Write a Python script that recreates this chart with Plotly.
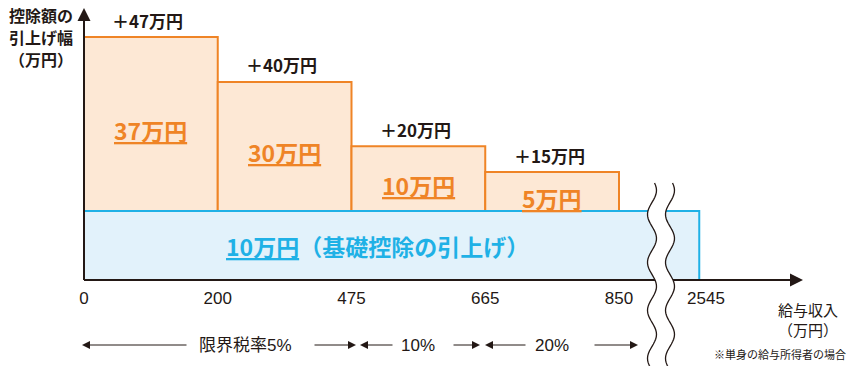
import numpy as np
import plotly.graph_objects as go

# ---------------- data ----------------
income_ticks = ["0", "200", "475", "665", "850", "2545"]      # 給与収入 (万円)
extra_amounts = [37, 30, 10, 5]                               # 控除額の上乗せ (万円)
total_amounts = [47, 40, 20, 15]                              # 引上げ幅合計 (万円)
base_amount = 10                                              # 基礎控除の引上げ (万円)
bracket_labels = ["限界税率5%", "10%", "20%"]
y_title_lines = ["控除額の", "引上げ幅", "（万円）"]
x_title_lines = ["給与収入", "（万円）"]
# schematic (not-to-scale) drawn heights, in chart units
step_heights = [25.2, 18.7, 9.4, 5.65]
base_height = 10

# ---------------- layout constants ----------------
W, H = 850, 366
ML, MR, MT, MB = 84, 47, 10, 86
PW, PH = W - ML - MR, H - MT - MB
UNIT_X = 133.75                      # px per income bracket step
X_MAX = PW / UNIT_X
Y_MAX = PH / 6.9
BREAK_POS = 4.6                      # where the broken axis ends (2545)
tick_pos = [0, 1, 2, 3, 4, 4.65]

def px2xp(px):
    return (px - ML) / PW

def py2yp(py):
    return (MT + PH - py) / PH

ORANGE = "#EF8426"
ORANGE_FILL = "#FDE8D5"
BLUE = "#1FB1E6"
BLUE_FILL = "#E2F2FB"
TXT = "#231815"
JP = "Liberation Sans, Noto Sans CJK JP"
CJK = "Noto Sans CJK JP"

fig = go.Figure()

fig.add_trace(go.Bar(
    x=[i + 0.5 for i in range(len(step_heights))],
    y=step_heights, base=base_height, width=1,
    marker=dict(color=ORANGE_FILL, line=dict(color=ORANGE, width=2)),
    hoverinfo="skip", showlegend=False))

fig.add_trace(go.Bar(
    x=[BREAK_POS / 2], y=[base_height], base=0, width=BREAK_POS,
    marker=dict(color=BLUE_FILL, line=dict(color=BLUE, width=2)),
    hoverinfo="skip", showlegend=False))

ann = []
for i, (h, a, t) in enumerate(zip(step_heights, extra_amounts, total_amounts)):
    top = base_height + h
    ann.append(dict(x=i + 0.5, y=top, xref="x", yref="y", showarrow=False,
                    xanchor="center", yanchor="middle",
                    text=f"<b>＋{t}万円</b>", yshift=17, xshift=-3,
                    font=dict(family=CJK, size=17, color=TXT)))
    ann.append(dict(x=i + 0.5, y=base_height + h / 2, xref="x", yref="y",
                    xanchor="center", yanchor="middle",
                    showarrow=False, text=f"<b><u>{a}万円</u></b>", yshift=-6,
                    font=dict(family=CJK, size=23, color=ORANGE)))

ann.append(dict(x=BREAK_POS / 2, y=base_height / 2, xref="x", yref="y",
                xanchor="center", yanchor="middle",
                showarrow=False, xshift=-14,
                text=f"<b><u>{base_amount}万円</u>（基礎控除の引上げ）</b>",
                font=dict(family=CJK, size=23, color=BLUE)))

# axis titles (one annotation per line)
for k, line in enumerate(y_title_lines):
    ann.append(dict(x=px2xp(73), y=py2yp(15 + 22 * k), xref="paper", yref="paper",
                    xanchor="right", yanchor="middle", showarrow=False,
                    borderpad=0, borderwidth=0,
                    text=f"<b>{line}</b>",
                    font=dict(family=CJK, size=16, color=TXT)))
for k, line in enumerate(x_title_lines):
    ann.append(dict(x=px2xp(808), y=py2yp(309 + 20 * k), xref="paper", yref="paper",
                    xanchor="center", yanchor="middle", showarrow=False,
                    borderpad=0, borderwidth=0,
                    text=line, font=dict(family=CJK, size=15, color=TXT)))
ann.append(dict(x=px2xp(846), y=py2yp(354), xref="paper", yref="paper",
                xanchor="right", yanchor="middle", showarrow=False,
                borderpad=0, borderwidth=0,
                text="※単身の給与所得者の場合",
                font=dict(family=CJK, size=11, color=TXT)))

# axis arrowheads
ann.append(dict(x=1, y=0, xref="paper", yref="paper", ax=-20, ay=0,
                axref="pixel", ayref="pixel", text="", showarrow=True,
                arrowhead=2, arrowsize=1.3, arrowwidth=2, arrowcolor=TXT))
ann.append(dict(x=0, y=py2yp(8), xref="paper", yref="paper", ax=0, ay=20,
                axref="pixel", ayref="pixel", text="", showarrow=True,
                arrowhead=2, arrowsize=1.3, arrowwidth=2, arrowcolor=TXT))

# marginal tax bracket row (pixel layout)
row_y = py2yp(345)
bracket_text_px = [245, 418, 552]
bracket_segments = [((82, 188), (313, 356)), ((360, 394), (452, 480)), ((485, 527), (593, 638))]
for lab, cx, ((h1, t1), (t2, h2)) in zip(bracket_labels, bracket_text_px, bracket_segments):
    ann.append(dict(x=px2xp(cx), y=row_y, xref="paper", yref="paper", showarrow=False,
                    xanchor="center", yanchor="middle",
                    text=lab, font=dict(family=JP, size=17, color=TXT)))
    for head, tail in ((h1, t1), (h2, t2)):
        ann.append(dict(x=px2xp(head), y=row_y, xref="paper", yref="paper",
                        ax=tail - head, ay=0, axref="pixel", ayref="pixel",
                        text="", showarrow=True, arrowhead=2, arrowsize=1.6,
                        arrowwidth=1, arrowcolor=TXT, standoff=0))

shapes = [
    dict(type="line", xref="paper", yref="paper", x0=0, y0=0, x1=0.985, y1=0,
         line=dict(color=TXT, width=2), layer="above"),
    dict(type="line", xref="paper", yref="paper", x0=0, y0=0, x1=0, y1=py2yp(14),
         line=dict(color=TXT, width=2), layer="above"),
]

# break squiggle
ys = np.linspace(183, 370, 80)
phase = 2 * np.pi * (ys - 183) / 48
left = 652 + 4.5 * np.sin(phase + 0.6)
right = 670 + 4.5 * np.sin(phase + 0.6)
def pts(xs, yv):
    return " L ".join(f"{px2xp(a):.5f},{py2yp(b):.5f}" for a, b in zip(xs, yv))
fill_path = "M " + pts(left, ys) + " L " + pts(right[::-1], ys[::-1]) + " Z"
shapes.append(dict(type="path", xref="paper", yref="paper", path=fill_path,
                   fillcolor="white", line=dict(width=0), layer="above"))
for xs in (left, right):
    shapes.append(dict(type="path", xref="paper", yref="paper", path="M " + pts(xs, ys),
                       line=dict(color=TXT, width=1.3), layer="above"))

fig.update_layout(
    width=W, height=H, autosize=False,
    margin=dict(l=ML, r=MR, t=MT, b=MB, autoexpand=False),
    paper_bgcolor="white", plot_bgcolor="white",
    barmode="overlay", showlegend=False,
    xaxis=dict(range=[0, X_MAX], showgrid=False, zeroline=False, showline=False,
               tickmode="array", tickvals=tick_pos, ticktext=income_ticks,
               ticks="", ticklabelstandoff=6,
               tickfont=dict(family="Liberation Sans", size=17, color=TXT),
               fixedrange=True),
    yaxis=dict(range=[0, Y_MAX], showgrid=False, zeroline=False, showline=False,
               showticklabels=False, ticks="", fixedrange=True),
    annotations=ann, shapes=shapes,
)

fig.write_html("out.html", config={"displayModeBar": False},
               post_script="document.body.style.margin='0';")
